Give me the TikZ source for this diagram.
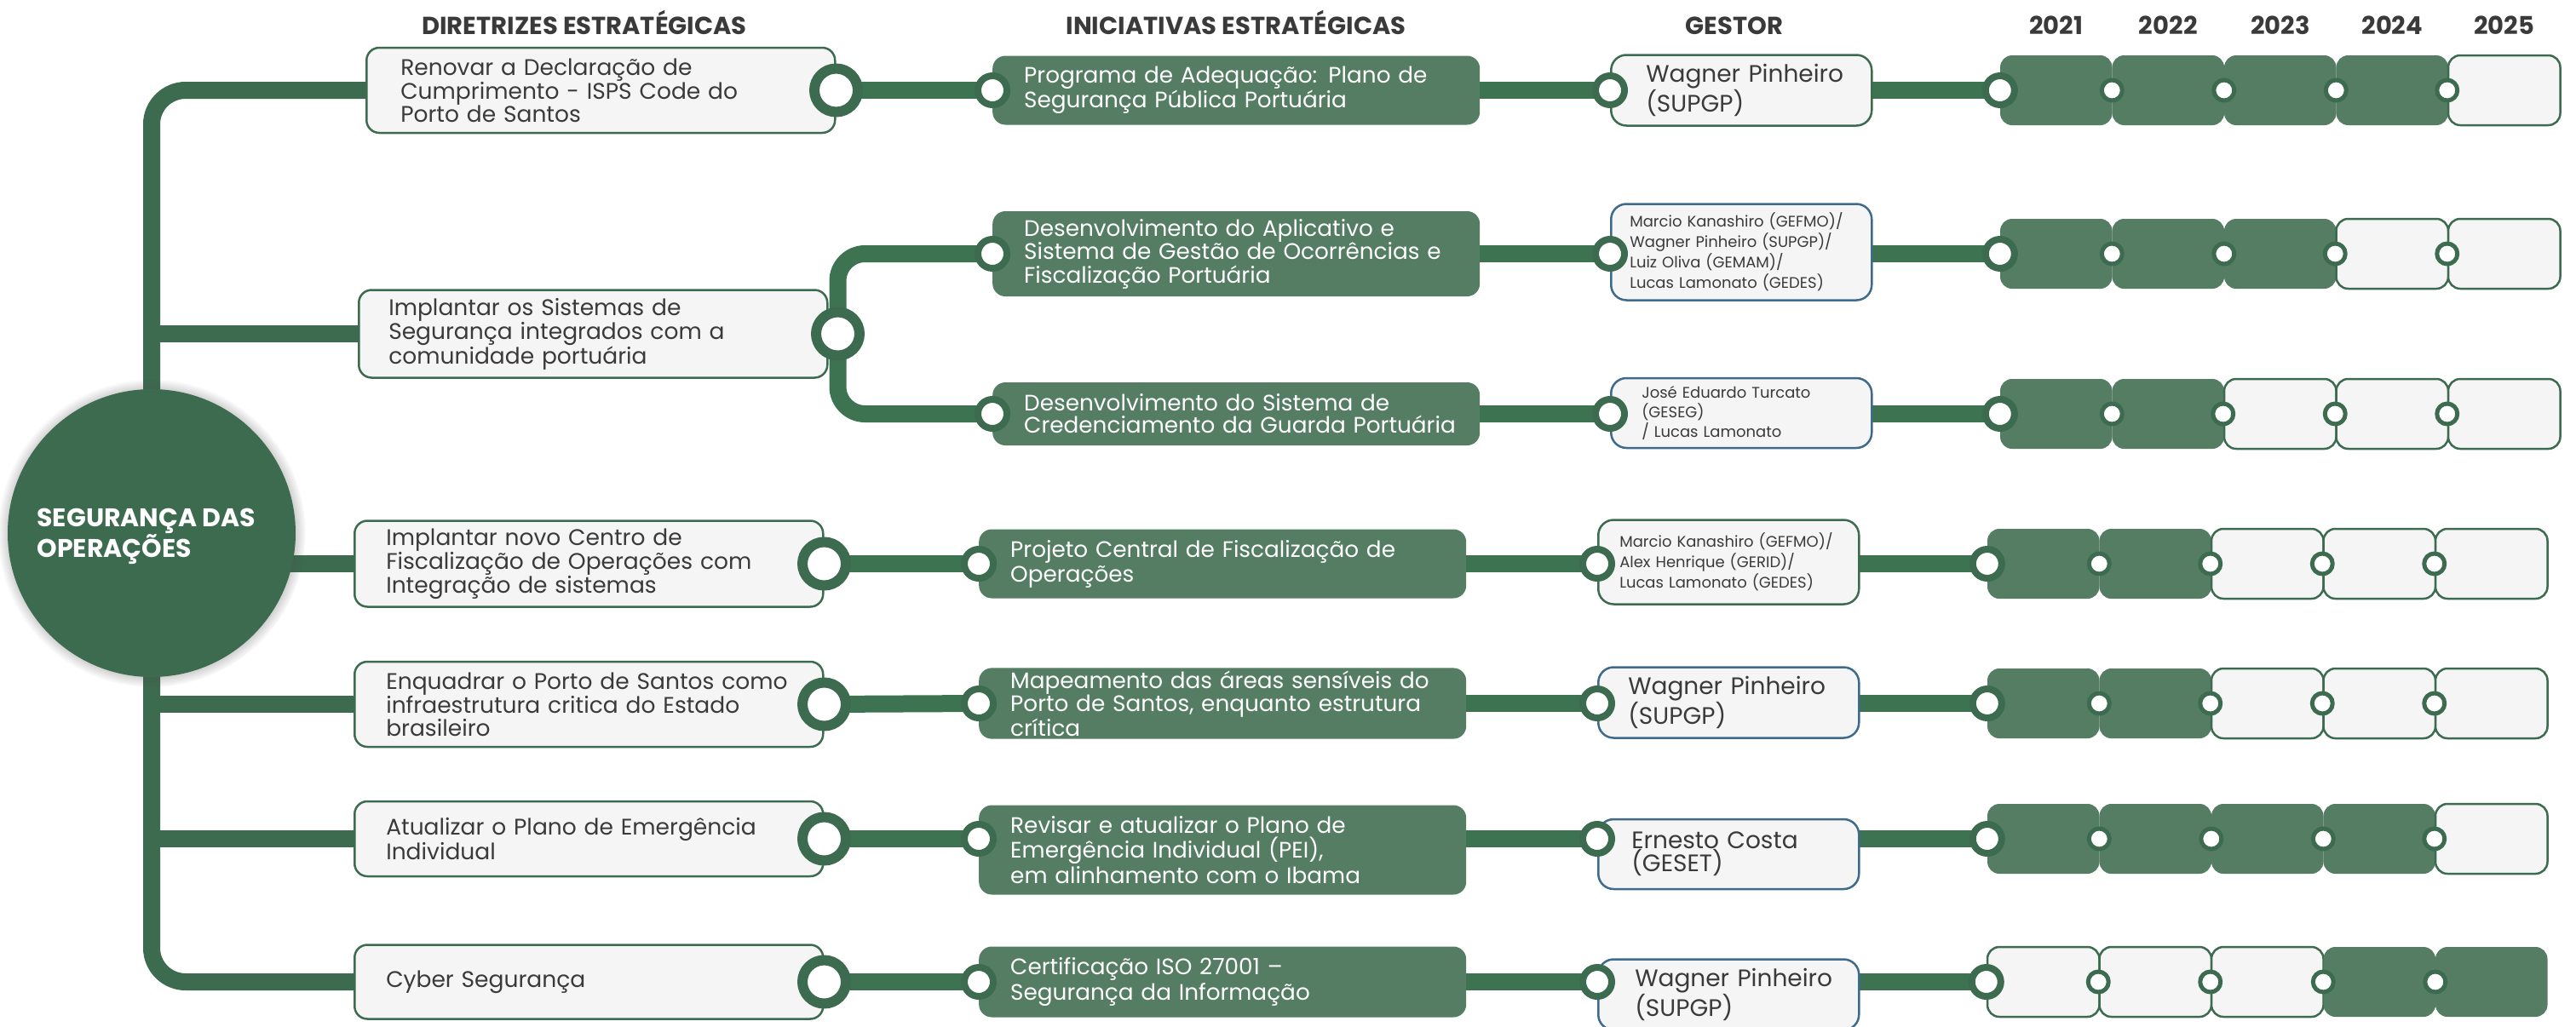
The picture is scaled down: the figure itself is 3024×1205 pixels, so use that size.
\documentclass[tikz,border=0pt]{standalone}
\usepackage{fontspec}
\setmainfont{Poppins}
\usetikzlibrary{backgrounds,shadows}
\definecolor{verdeesc}{HTML}{3C6B4F}
\definecolor{verdelig}{HTML}{3D7350}
\definecolor{verdecx}{HTML}{547D63}
\definecolor{cinzacx}{HTML}{F5F5F5}
\definecolor{azulcx}{HTML}{3E6A8C}
\definecolor{texto}{HTML}{3A3A3A}
\begin{document}
\begin{tikzpicture}[x=1pt, y=-1pt, line join=round,
  tronco/.style={draw=verdeesc, line width=20pt},
  ligacao/.style={draw=verdelig, line width=20pt},
  titulo/.style={anchor=base, text=texto, font=\bfseries\fontsize{29}{32}\selectfont},
  recuo/.style={execute at begin node={\leftskip=#1}},
  diretriz/.style={draw=verdeesc, line width=2.5pt, fill=cinzacx, rounded corners=15pt, anchor=west,
    text width=540pt, inner xsep=5pt, recuo=32pt, align=left, text=texto, font=\fontsize{26.5}{26.7}\selectfont},
  iniciativa/.style={fill=verdecx, rounded corners=15pt, anchor=west, text width=562pt, inner xsep=5pt,
    recuo=32pt, align=left, text=white, font=\fontsize{26.3}{27.5}\selectfont},
  gestor/.style={draw=#1, line width=2.5pt, fill=cinzacx, rounded corners=18pt, anchor=west,
    text width=296pt, inner xsep=5pt, recuo=34pt, align=left, text=texto, font=\fontsize{28}{28}\selectfont},
  gestor/.default=azulcx,
  miudo/.style={font=\fontsize{18}{24}\selectfont},
  aneldir/.style={circle, draw=verdeesc, line width=12pt, fill=white, minimum size=51pt, inner sep=0pt},
  anelmed/.style={circle, draw=verdeesc, line width=8pt, fill=white, minimum size=34pt, inner sep=0pt},
  anelpeq/.style={circle, draw=verdeesc, line width=5pt, fill=white, minimum size=24pt, inner sep=0pt},
  ano/.style={minimum width=131.5pt, minimum height=82pt, rounded corners=14pt, inner sep=0pt},
  cheio/.style={ano, fill=verdecx},
  vazio/.style={ano, fill=cinzacx, draw=verdeesc, line width=2.5pt}]
\useasboundingbox (0,0) rectangle (3024,1205);

\node[titulo] (hdir) at (686,40) {DIRETRIZES ESTRATÉGICAS};
\node[titulo] (hini) at (1451,40) {INICIATIVAS ESTRATÉGICAS};
\node[titulo] (hges) at (2036,40) {GESTOR};
\foreach \a [count=\k] in {2021,...,2025}
  \node[titulo] (h\a) at ({2348+(\k-0.5)*131.5},40) {\a};

\node[circle, fill=verdeesc, minimum size=338pt,
  circular drop shadow={shadow xshift=0pt, shadow yshift=0pt, shadow scale=1.07, fill=black!70, opacity=0.55}] (hub) at (178,626) {};
\node[anchor=west, align=left, text=white, font=\bfseries\fontsize{30}{30}\selectfont] (hubtxt) at (40,630)
  {SEGURANÇA DAS\\OPERAÇÕES};

\node[diretriz, recuo=35pt, minimum height=100pt] (d1) at (429,106) {Renovar a Declaração de\\Cumprimento - ISPS Code do\\Porto de Santos};
\node[diretriz, recuo=30pt, minimum height=103pt] (d2) at (420,392) {Implantar os Sistemas de\\Segurança integrados com a\\comunidade portuária};
\node[diretriz, minimum height=101pt] (d3) at (415,662) {Implantar novo Centro de\\Fiscalização de Operações com\\Integração de sistemas};
\node[diretriz, minimum height=100pt] (d4) at (415,827) {Enquadrar o Porto de Santos como\\infraestrutura critica do Estado\\brasileiro};
\node[diretriz, minimum height=88pt] (d5) at (415,985) {Atualizar o Plano de Emergência\\Individual};
\node[diretriz, minimum height=87pt] (d6) at (415,1153) {Cyber Segurança};

\node[iniciativa, minimum height=81pt, font=\fontsize{26.3}{29}\selectfont] (i1) at (1165,106) {Programa de Adequação: Plano de\\Segurança Pública Portuária};
\node[iniciativa, minimum height=100pt] (i2a) at (1165,298) {Desenvolvimento do Aplicativo e\\Sistema de Gestão de Ocorrências e\\Fiscalização Portuária};
\node[iniciativa, minimum height=74pt, font=\fontsize{26.3}{26}\selectfont] (i2b) at (1165,486) {Desenvolvimento do Sistema de\\Credenciamento da Guarda Portuária};
\node[iniciativa, minimum height=81pt, font=\fontsize{26.3}{29}\selectfont] (i3) at (1149,662) {Projeto Central de Fiscalização de\\Operações};
\node[iniciativa, minimum height=83pt, font=\fontsize{26.3}{23.5}\selectfont] (i4) at (1149,826) {Mapeamento das áreas sensíveis do\\Porto de Santos, enquanto estrutura\\crítica};
\node[iniciativa, minimum height=105pt, font=\fontsize{26.3}{29.5}\selectfont] (i5) at (1149,998) {Revisar e atualizar o Plano de\\Emergência Individual (PEI),\\em alinhamento com o Ibama};
\node[iniciativa, minimum height=83pt, font=\fontsize{26.3}{30}\selectfont] (i6) at (1149,1153) {Certificação ISO 27001 –\\Segurança da Informação};

\node[gestor=verdeesc, recuo=36pt, minimum height=83pt] (g1) at (1890,106) {Wagner Pinheiro\\(SUPGP)};
\node[gestor, miudo, recuo=17pt, minimum height=113pt] (g2a) at (1890,296) {Marcio Kanashiro (GEFMO)/\\Wagner Pinheiro (SUPGP)/\\Luiz Oliva (GEMAM)/\\Lucas Lamonato (GEDES)};
\node[gestor, miudo, recuo=31pt, minimum height=82pt, font=\fontsize{18}{23}\selectfont] (g2b) at (1890,485) {José Eduardo Turcato\\(GESEG)\\/ Lucas Lamonato};
\node[gestor=verdeesc, miudo, recuo=20pt, minimum height=99pt] (g3) at (1875,660) {Marcio Kanashiro (GEFMO)/\\Alex Henrique (GERID)/\\Lucas Lamonato (GEDES)};
\node[gestor, recuo=30pt, minimum height=83pt, font=\fontsize{28}{33}\selectfont] (g4) at (1875,825) {Wagner Pinheiro\\(SUPGP)};
\node[gestor, minimum height=82pt, font=\fontsize{28}{27}\selectfont] (g5) at (1875,1003) {Ernesto Costa\\(GESET)};
\node[gestor, recuo=38pt, minimum height=83pt] (g6) at (1875,1168) {Wagner Pinheiro\\(SUPGP)};

\foreach \nome/\x/\y/\estados in {t1/2348/106/{cheio,cheio,cheio,cheio,vazio},
    t2a/2348/298/{cheio,cheio,cheio,vazio,vazio}, t2b/2348/486/{cheio,cheio,vazio,vazio,vazio},
    t3/2333/662/{cheio,cheio,vazio,vazio,vazio}, t4/2333/826/{cheio,cheio,vazio,vazio,vazio},
    t5/2333/985/{cheio,cheio,cheio,cheio,vazio}, t6/2333/1153/{vazio,vazio,vazio,cheio,cheio}}{
  \foreach \s [count=\k] in \estados
    \node[\s] (\nome-\k) at ({\x+(\k-0.5)*131.5},\y) {};
  \node[anelmed] (\nome-a1) at (\nome-1.west) {};
  \foreach \k in {2,...,5}
    \node[anelpeq] (\nome-a\k) at (\nome-\k.west) {};
}

\node[aneldir] (dr1) at (d1.east) {};
\node[aneldir] (dr2) at ([xshift=11pt]d2.east) {};
\foreach \r in {3,...,6}
  \node[aneldir] (dr\r) at (d\r.east) {};
\foreach \r/\t in {1/t1, 2a/t2a, 2b/t2b, 3/t3, 4/t4, 5/t5, 6/t6}{
  \node[anelmed] (ir\r) at (i\r.west |- \t-1) {};
  \node[anelmed] (gr\r) at (g\r.west |- \t-1) {};
}

\begin{scope}[on background layer]
  \draw[tronco, rounded corners=40pt] (d1.west) -| (hub.center) |- (d6.west);
  \foreach \r in {2,...,5}
    \draw[tronco] (d\r.west) -- (d\r.west -| hub.center);
  \draw[ligacao, rounded corners=32pt] (ir2a.center) -| (dr2.center) |- (ir2b.center);
  \foreach \r in {1,3,4,5,6}
    \draw[ligacao] (dr\r.center) -- (ir\r.center);
  \foreach \r in {1,2a,2b,3,4,5,6}
    \draw[ligacao] (ir\r.center) -- (gr\r.center) -- (t\r-a1.center);
\end{scope}
\end{tikzpicture}
\end{document}
